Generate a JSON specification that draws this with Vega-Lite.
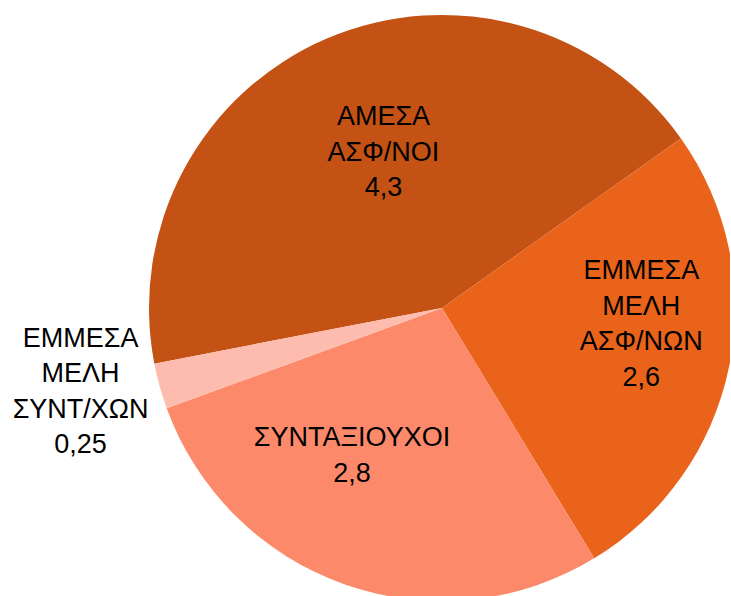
{
  "$schema": "https://vega.github.io/schema/vega-lite/v6.json",
  "width": 576,
  "height": 576,
  "padding": {"left": 154, "top": 20, "right": 0, "bottom": 0},
  "autosize": "none",
  "background": "white",
  "view": {"stroke": null},
  "config": {"text": {"font": "Liberation Sans", "fontSize": 27, "lineBreak": "\n", "lineHeight": 35.5, "color": "black"}},
  "data": {"values": [
    {"k": "a", "name": "ΑΜΕΣΑ\nΑΣΦ/ΝΟΙ", "value": 4.3},
    {"k": "b", "name": "ΕΜΜΕΣΑ\nΜΕΛΗ\nΑΣΦ/ΝΩΝ", "value": 2.6},
    {"k": "c", "name": "ΣΥΝΤΑΞΙΟΥΧΟΙ", "value": 2.8},
    {"k": "d", "name": "ΕΜΜΕΣΑ\nΜΕΛΗ\nΣΥΝΤ/ΧΩΝ", "value": 0.25}
  ]},
  "transform": [
    {"window": [{"op": "row_number", "as": "idx"}]},
    {"calculate": "datum.name + '\\n' + replace(toString(datum.value), '.', ',')", "as": "label"}
  ],
  "encoding": {
    "theta": {"field": "value", "type": "quantitative", "stack": true, "scale": {"range": [-1.7619, 4.5213]}},
    "order": {"field": "idx", "type": "quantitative"}
  },
  "layer": [
    {
      "mark": {"type": "arc", "outerRadius": 293},
      "encoding": {
        "color": {"field": "k", "type": "nominal", "legend": null,
          "scale": {"domain": ["a", "b", "c", "d"], "range": ["#C45214", "#E9631A", "#FC8A6A", "#FDBCAE"]}}
      }
    },
    {
      "mark": {"type": "text", "radius": 166, "thetaOffset": 0.044, "dy": -35.5},
      "encoding": {"text": {"condition": {"test": "datum.k === 'a'", "field": "label"}, "value": ""}}
    },
    {
      "mark": {"type": "text", "radius": 200, "thetaOffset": -0.122, "dy": -53.25},
      "encoding": {"text": {"condition": {"test": "datum.k === 'b'", "field": "label"}, "value": ""}}
    },
    {
      "mark": {"type": "text", "radius": 173, "thetaOffset": 0.209, "dy": -17.75},
      "encoding": {"text": {"condition": {"test": "datum.k === 'c'", "field": "label"}, "value": ""}}
    },
    {
      "mark": {"type": "text", "radius": 371, "thetaOffset": 0.042, "dy": -53.25},
      "encoding": {"text": {"condition": {"test": "datum.k === 'd'", "field": "label"}, "value": ""}}
    }
  ]
}
